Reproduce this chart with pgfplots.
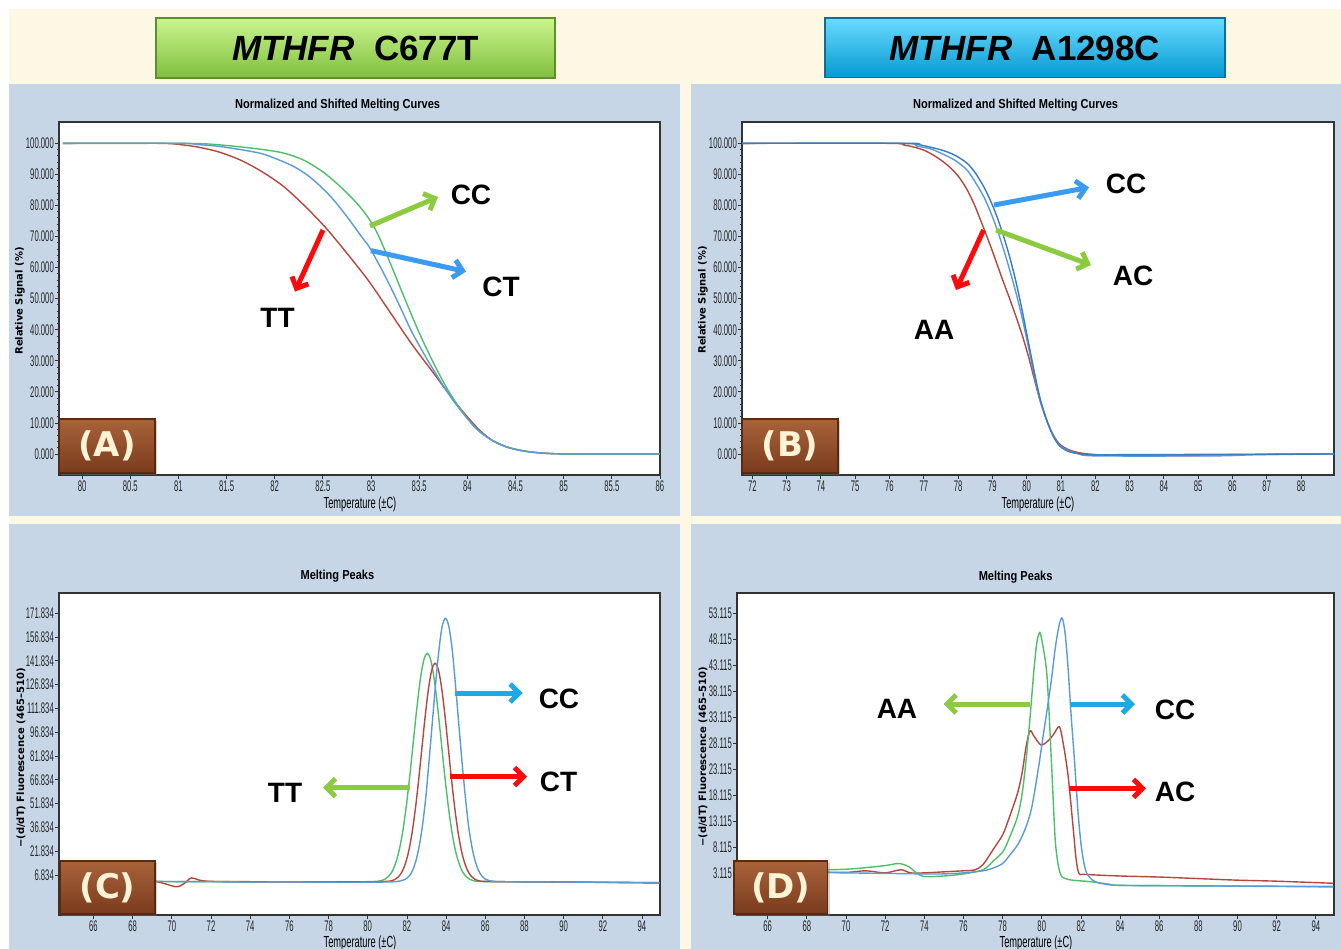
\documentclass[border=0pt]{standalone}
\usepackage{fontspec}
\setmainfont{Liberation Sans}
\newfontfamily\cond[FakeStretch=0.5]{Liberation Sans}
\newfontfamily\condx[FakeStretch=0.58]{Liberation Sans}
\newfontfamily\tfont[FakeStretch=0.85]{Liberation Sans}
\newfontfamily\dvs{DejaVu Sans}
\usepackage{pgfplots}
\pgfplotsset{compat=1.18}
\usetikzlibrary{arrows.meta,shadows}

\definecolor{cream}{HTML}{FDF8E4}
\definecolor{panel}{HTML}{C6D6E6}
\definecolor{gtop}{HTML}{CBF58E}
\definecolor{gmid}{HTML}{A0DC5C}
\definecolor{gbot}{HTML}{7FBF3E}
\definecolor{gedge}{HTML}{5E8F2E}
\definecolor{ctop}{HTML}{6ADBFF}
\definecolor{cmid}{HTML}{0DBCF6}
\definecolor{cbot}{HTML}{049AD2}
\definecolor{cedge}{HTML}{0A6F99}
\definecolor{cgreen}{HTML}{4DBF6A}
\definecolor{cblue}{HTML}{5B9BD5}
\definecolor{cblueD}{HTML}{3A7CC0}
\definecolor{cred}{HTML}{B5473F}
\definecolor{agreen}{HTML}{8CCB3F}
\definecolor{ablue}{HTML}{3B9BF0}
\definecolor{acyan}{HTML}{1CA9E6}
\definecolor{ared}{HTML}{FF0A0A}
\definecolor{brtop}{HTML}{A8633A}
\definecolor{brbot}{HTML}{7A3B1D}
\definecolor{bredge}{HTML}{5A2A10}
\definecolor{brtext}{HTML}{FFF3D6}

\pgfkeys{/pgf/number format/assume math mode=true}
\pgfplotsset{
  melt/.style={
    scale only axis, anchor=south west,
    axis background/.style={fill=white},
    axis line style={draw=black!80, line width=0.6pt},
    tick align=outside, xtick pos=bottom, ytick pos=left,
    major tick length=2pt, minor tick length=1.2pt,
    tick style={black!80, line width=0.4pt},
    tick label style={font=\cond\fontsize{7.7}{8}\selectfont, text=black!85},
    yticklabel style={inner sep=0.4pt},
    xticklabel style={inner sep=0.8pt},
    yticklabel={\pgfmathprintnumber[fixed,fixed zerofill,precision=3,assume math mode=true]{\tick}},
    xticklabel={\pgfmathprintnumber[fixed,precision=1,assume math mode=true]{\tick}},
    every axis plot/.append style={line width=0.7pt, smooth, tension=0.5, mark=none},
  },
}
\tikzset{
  brownbox/.style={rectangle, top color=brtop, bottom color=brbot, draw=bredge, line width=0.6pt,
    text=brtext, font=\dvs\bfseries\fontsize{17}{17}\selectfont, inner sep=0pt,
    drop shadow={opacity=0.35, shadow xshift=1pt, shadow yshift=-1pt}},
  ttl/.style={font=\tfont\bfseries\fontsize{6.5}{6.5}\selectfont},
  xl/.style={font=\condx\fontsize{8}{8}\selectfont},
  yl/.style={font=\dvs\bfseries\fontsize{5}{5}\selectfont, rotate=90},
  ann/.style={font=\bfseries\fontsize{14}{14}\selectfont},
  arr/.style={line width=2.5pt, -{Straight Barb[length=4.5pt,width=9pt]}},
}

\begin{document}
\begin{tikzpicture}
\path[use as bounding box] (0pt,0pt) rectangle (670.5pt,-474.5pt);
\fill[white] (0pt,0pt) rectangle (670.5pt,-474.5pt);
\fill[cream] (4.5pt,-4.5pt) rectangle (670.5pt,-474.5pt);
\fill[panel] (4.5pt,-42pt) rectangle (340pt,-258pt);
\fill[panel] (345.5pt,-42pt) rectangle (670.5pt,-258pt);
\fill[panel] (4.5pt,-262pt) rectangle (340pt,-474.5pt);
\fill[panel] (345.5pt,-262pt) rectangle (670.5pt,-474.5pt);

% banners
\shade[top color=gtop, middle color=gmid, bottom color=gbot, draw=gedge, line width=0.8pt] (78pt,-9pt) rectangle (277.5pt,-39pt);
\node at (177.8pt,-24pt) {\fontsize{17.5}{17.5}\selectfont\bfseries\itshape MTHFR\ \ \upshape C677T};
\shade[top color=ctop, middle color=cmid, bottom color=cbot, draw=cedge, line width=0.8pt] (412.5pt,-9pt) rectangle (612.5pt,-38.8pt);
\node at (512.5pt,-24pt) {\fontsize{17.5}{17.5}\selectfont\bfseries\itshape MTHFR\ \ \upshape A1298C};

% ---------- Panel A ----------
\begin{axis}[melt, at={(29.5pt,-237.5pt)}, width=300.5pt, height=176.5pt,
  xmin=79.76, xmax=86, ymin=-6.76, ymax=106.86,
  xtick={80,80.5,81,81.5,82,82.5,83,83.5,84,84.5,85,85.5,86},
  ytick={0,10,20,30,40,50,60,70,80,90,100}, minor y tick num=4]
\addplot[cred] coordinates {(79.8,100) (80.8,100) (81.04,99.5) (81.2,98.8) (81.4,97.4) (81.63,94.8) (81.85,91.2) (82.08,86.4) (82.3,80.2) (82.53,72.8) (82.75,64.6) (82.98,55.5) (83.2,45.5) (83.42,35.5) (83.65,26) (83.87,16.8) (84.1,8.5) (84.25,4.6) (84.4,2.4) (84.55,1.2) (84.7,0.5) (84.9,0.1) (85.2,0) (86,0)};
\addplot[cgreen] coordinates {(79.8,100) (80.5,100) (81.0,100) (81.3,99.8) (81.6,99.0) (81.9,97.9) (82.1,96.8) (82.3,94.6) (82.5,90.8) (82.7,85.5) (82.9,79) (83.05,72) (83.2,61.4) (83.35,50) (83.5,39) (83.65,29.2) (83.8,20.5) (83.95,13.5) (84.1,7.9) (84.25,4.5) (84.4,2.4) (84.55,1.2) (84.7,0.5) (84.9,0.1) (85.2,0) (86,0)};
\addplot[cblue] coordinates {(79.8,100) (81.0,100) (81.2,99.6) (81.4,99.1) (81.6,98.2) (81.85,96.8) (82.0,95.2) (82.2,92.5) (82.35,89.5) (82.48,86) (82.6,82.2) (82.75,76.4) (82.9,70) (82.98,66.7) (83.1,60) (83.2,53.9) (83.3,47.5) (83.42,39.5) (83.55,32.2) (83.65,27) (83.76,21.5) (83.87,16.5) (84.0,11.4) (84.1,8.0) (84.25,4.5) (84.4,2.3) (84.55,1.1) (84.7,0.5) (84.9,0.1) (85.2,0) (86,0)};
\end{axis}

% ---------- Panel B ----------
\begin{axis}[melt, at={(371pt,-237.5pt)}, width=296pt, height=176.5pt,
  xmin=71.7, xmax=88.96, ymin=-6.76, ymax=106.86,
  xtick={72,73,...,88},
  ytick={0,10,20,30,40,50,60,70,80,90,100}, minor y tick num=4]
\addplot[cred] coordinates {(71.7,100) (76.0,100) (76.4,99.5) (76.67,98.9) (77.0,97.8) (77.28,96.2) (77.55,94.2) (77.77,92.2) (78.0,89.5) (78.14,87.3) (78.3,84.3) (78.5,79.6) (78.75,72.6) (78.95,66.8) (79.12,61.6) (79.3,56) (79.49,50.4) (79.68,44.5) (79.86,38.6) (80.05,31.5) (80.23,23.8) (80.4,16.8) (80.6,10.4) (80.78,6.0) (80.96,3.2) (81.2,1.5) (81.45,0.6) (81.8,0) (82.5,-0.4) (85,-0.5) (86,-0.2) (88.96,0)};
\addplot[cblue] coordinates {(71.7,100) (76.3,100) (76.8,99.1) (77.2,98.2) (77.5,96.8) (77.9,94.6) (78.26,91.4) (78.5,87.5) (78.75,82.8) (78.95,77.8) (79.12,72.8) (79.3,66.8) (79.49,59.8) (79.68,52.2) (79.86,44.2) (80.05,34.5) (80.23,24.9) (80.4,17) (80.6,10.4) (80.78,5.8) (80.96,2.9) (81.2,1.2) (81.5,0.2) (82,-0.6) (85.5,-0.6) (86.8,-0.2) (88.96,0)};
\addplot[cblueD] coordinates {(71.7,100) (76.4,100) (76.8,99.7) (77.5,97.9) (77.9,96.2) (78.26,93.6) (78.5,90.5) (78.75,86) (78.95,81.4) (79.12,76.8) (79.3,71) (79.49,64) (79.68,55.8) (79.86,46.6) (80.05,36) (80.23,26) (80.4,17.5) (80.6,10.4) (80.78,5.6) (80.96,2.6) (81.2,0.9) (81.5,0.1) (82,-0.3) (83,-0.2) (88.96,0)};
\end{axis}

% ---------- Panel C ----------
\begin{axis}[melt, at={(29.5pt,-457.5pt)}, width=300.5pt, height=161pt,
  xmin=64.24, xmax=94.92, ymin=-18.4, ymax=184.6,
  xtick={66,68,...,94},
  ytick={6.834,21.834,36.834,51.834,66.834,81.834,96.834,111.834,126.834,141.834,156.834,171.834}]
\addplot[cgreen] coordinates {(64.3,3.0) (66,3.1) (68,2.8) (69,3.0) (70,2.6) (72,2.7) (74,2.5) (76,2.6) (78,2.4) (79.5,2.5) (80.52,2.9) (80.88,4.2) (81.06,5.9) (81.24,8.9) (81.42,14.1) (81.60,22.1) (81.78,33.7) (81.96,49.4) (82.14,68.5) (82.32,89.9) (82.50,111.3) (82.68,129.7) (82.86,142.2) (83.04,146.6) (83.22,142.2) (83.40,129.7) (83.58,111.3) (83.76,89.9) (83.94,68.5) (84.12,49.4) (84.30,33.7) (84.48,22.1) (84.66,14.1) (84.84,8.9) (85.02,5.9) (85.20,4.2) (85.56,2.9) (86.5,2.6) (90,2.4) (94.9,2.0)};
\addplot[cred] coordinates {(64.3,3.2) (66,3.0) (68,2.9) (69,3.0) (69.6,1.5) (70.0,0.0) (70.3,-0.6) (70.6,1.2) (71.0,5.0) (71.4,3.6) (72,2.8) (74,2.6) (76,2.5) (78,2.6) (80,2.5) (81.06,2.9) (81.40,4.1) (81.57,5.7) (81.74,8.6) (81.91,13.6) (82.08,21.2) (82.25,32.4) (82.42,47.3) (82.59,65.6) (82.76,86.1) (82.93,106.5) (83.10,124.1) (83.27,136.1) (83.44,140.3) (83.61,136.1) (83.78,124.1) (83.95,106.5) (84.12,86.1) (84.29,65.6) (84.46,47.3) (84.63,32.4) (84.80,21.2) (84.97,13.6) (85.14,8.6) (85.31,5.7) (85.48,4.1) (85.82,2.9) (87,2.6) (90,2.4) (94.9,1.8)};
\addplot[cblue] coordinates {(64.3,3.0) (66,2.9) (68,2.8) (70,2.7) (72,2.6) (74,2.4) (76,2.5) (78,2.3) (80,2.3) (81.2,2.5) (81.63,3.0) (81.96,4.4) (82.13,6.4) (82.30,9.9) (82.46,15.8) (82.63,25.1) (82.80,38.5) (82.97,56.5) (83.13,78.6) (83.30,103.3) (83.47,128.0) (83.64,149.2) (83.80,163.6) (83.97,168.7) (84.14,163.6) (84.31,149.2) (84.47,128.0) (84.64,103.3) (84.81,78.6) (84.98,56.5) (85.14,38.5) (85.31,25.1) (85.48,15.8) (85.65,9.9) (85.81,6.4) (85.98,4.4) (86.32,3.0) (87,2.6) (90,2.4) (94.9,2.0)};
\end{axis}

% ---------- Panel D ----------
\begin{axis}[melt, at={(368.5pt,-457.5pt)}, width=298.5pt, height=161pt,
  xmin=64.43, xmax=94.93, ymin=-4.9, ymax=57.0,
  xtick={66,68,...,94},
  ytick={3.115,8.115,13.115,18.115,23.115,28.115,33.115,38.115,43.115,48.115,53.115}]
\addplot[cred] coordinates {(64.5,3.5) (66,3.4) (68,3.4) (70,3.3) (71,3.6) (72,3.2) (72.8,3.8) (73.3,3.2) (74,3.2) (75,3.4) (76,3.6) (76.6,3.8) (77.0,4.8) (77.5,7.6) (78.0,10.5) (78.3,13.4) (78.76,18.5) (79.0,22.5) (79.2,27.5) (79.4,30.5) (79.6,29.5) (79.95,27.8) (80.3,28.5) (80.6,29.8) (80.9,31.3) (81.1,28.0) (81.35,21.7) (81.6,12.0) (81.75,6.0) (81.9,3.1) (82.2,2.9) (84,2.6) (86,2.4) (88,2.1) (90,1.8) (92,1.6) (94.9,1.2)};
\addplot[cgreen] coordinates {(64.5,3.8) (66,3.7) (68,3.7) (70,3.9) (71,4.2) (72,4.6) (72.7,5.0) (73.2,4.4) (73.6,3.2) (74,2.5) (75,2.6) (76,3.0) (77,3.8) (77.5,5.4) (78,7.2) (78.3,9.5) (78.76,14.0) (79.0,18.5) (79.2,24.9) (79.4,33.0) (79.6,42.2) (79.75,47.5) (79.9,49.4) (80.05,47.0) (80.27,40.9) (80.49,24.9) (80.6,16.0) (80.7,8.9) (80.85,4.5) (81.02,2.5) (81.3,2.0) (81.56,1.8) (82.5,1.5) (83.5,1.0) (84,0.8) (88,0.7) (94.9,0.6)};
\addplot[cblue] coordinates {(64.5,3.6) (66,3.5) (68,3.3) (70,3.2) (72,3.1) (74,3.0) (75,3.0) (76,3.2) (77,3.6) (77.5,4.1) (78,5.0) (78.3,6.3) (78.8,8.8) (79.2,12.1) (79.5,16.0) (79.84,23.6) (80.05,29.0) (80.27,34.5) (80.5,40.5) (80.7,46.7) (80.9,51.0) (81.05,52.15) (81.2,49.0) (81.35,42.2) (81.5,33.5) (81.67,24.9) (81.85,15.0) (82.0,8.9) (82.15,5.2) (82.3,3.1) (82.6,1.8) (83,1.2) (84,0.8) (88,0.7) (94.9,0.5)};
\end{axis}

% titles and axis labels
\node[ttl] at (168.8pt,-52.5pt) {Normalized and Shifted Melting Curves};
\node[ttl] at (507.8pt,-52.5pt) {Normalized and Shifted Melting Curves};
\node[ttl] at (168.7pt,-288.3pt) {Melting Peaks};
\node[ttl] at (507.8pt,-288.5pt) {Melting Peaks};
\node[xl] at (180pt,-252pt) {Temperature (±C)};
\node[xl] at (519pt,-252pt) {Temperature (±C)};
\node[xl] at (180pt,-471.8pt) {Temperature (±C)};
\node[xl] at (518pt,-471.8pt) {Temperature (±C)};
\node[yl] at (10pt,-150.5pt) {Relative Signal (\%)};
\node[yl] at (351.5pt,-150pt) {Relative Signal (\%)};
\node[yl] at (10.5pt,-379pt) {−(d/dT) Fluorescence (465–510)};
\node[yl] at (351.5pt,-378.5pt) {−(d/dT) Fluorescence (465–510)};

% annotations A
\draw[arr, agreen] (185pt,-113pt) -- (219pt,-98.5pt);
\node[ann] at (235.5pt,-97.5pt) {CC};
\draw[arr, ablue] (185.5pt,-125.3pt) -- (233pt,-135.8pt);
\node[ann] at (250.5pt,-143.3pt) {CT};
\draw[arr, ared] (161.5pt,-115pt) -- (147.5pt,-145.8pt);
\node[ann] at (138.8pt,-159pt) {TT};
% annotations B
\draw[arr, ablue] (497pt,-102.5pt) -- (544.5pt,-93.7pt);
\node[ann] at (563pt,-92pt) {CC};
\draw[arr, agreen] (498pt,-115pt) -- (545.5pt,-132.5pt);
\node[ann] at (566.5pt,-138pt) {AC};
\draw[arr, ared] (491.8pt,-115pt) -- (478pt,-145pt);
\node[ann] at (467pt,-165pt) {AA};
% annotations C
\draw[arr, acyan] (227.5pt,-346.5pt) -- (261.3pt,-346.5pt);
\node[ann] at (279.5pt,-349.5pt) {CC};
\draw[arr, ared] (225pt,-388.3pt) -- (263.5pt,-388.3pt);
\node[ann] at (279.3pt,-390.8pt) {CT};
\draw[arr, agreen] (205pt,-393.8pt) -- (161.5pt,-393.8pt);
\node[ann] at (142.5pt,-396.5pt) {TT};
% annotations D
\draw[arr, agreen] (515pt,-352pt) -- (471.8pt,-352pt);
\node[ann] at (448.5pt,-354.5pt) {AA};
\draw[arr, acyan] (535pt,-352pt) -- (567.5pt,-352pt);
\node[ann] at (587.5pt,-355pt) {CC};
\draw[arr, ared] (534.4pt,-394.2pt) -- (573pt,-394.2pt);
\node[ann] at (587.5pt,-395.8pt) {AC};

% panel letters
\node[brownbox, minimum width=48pt, minimum height=27pt] at (53.5pt,-223pt) {(A)};
\node[brownbox, minimum width=48pt, minimum height=27pt] at (395pt,-223pt) {(B)};
\node[brownbox, minimum width=47.5pt, minimum height=26.5pt] at (53.75pt,-443.75pt) {(C)};
\node[brownbox, minimum width=46.8pt, minimum height=26.5pt] at (390.4pt,-443.75pt) {(D)};
\end{tikzpicture}
\end{document}
